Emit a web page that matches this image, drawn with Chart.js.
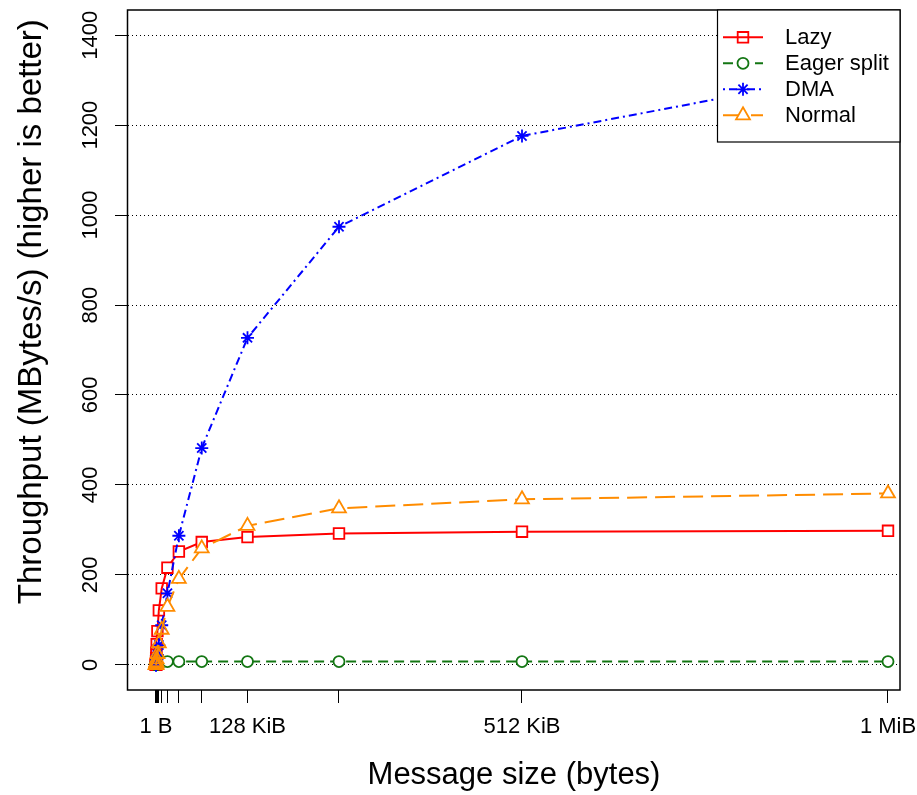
<!DOCTYPE html>
<html>
<head>
<meta charset="utf-8">
<script src="https://cdn.jsdelivr.net/npm/chart.js@4/dist/chart.umd.min.js"></script>
<style>
html,body{margin:0;padding:0;background:#fff;}
#wrap{width:917px;height:795px;}
canvas{display:block;}
</style>
</head>
<body>
<div id="wrap"><canvas id="c" width="917" height="795"></canvas></div>
<script>
// ---- data (message size in bytes, throughput in MBytes/s) ----
const sizes = [1, 2, 4, 8, 16, 32, 64, 128, 256, 512, 1024, 2048, 4096, 8192,
               16384, 32768, 65536, 131072, 262144, 524288, 1048576];
const lazy   = [0.06, 0.12, 0.25, 0.5, 1, 2, 4, 8, 15, 27, 46, 75, 121, 170,
                216, 252, 273, 284, 292, 296, 298];
const eager  = [0.5, 1, 1.5, 2, 2.5, 3, 3.5, 4, 4.5, 5, 5.5, 6, 6.5, 7,
                7.2, 7.3, 7.3, 7.3, 7.3, 7.3, 7.3];
const dma    = [0.01, 0.03, 0.05, 0.1, 0.2, 0.35, 0.7, 1.4, 2.8, 5.5, 11, 22, 44, 88,
                159, 287, 482, 727, 974, 1176, 1330];
const normal = [0.01, 0.03, 0.05, 0.1, 0.2, 0.4, 0.8, 1.5, 3, 6, 12, 24, 48, 78,
                129, 191, 259, 309, 348, 368, 381];
const seriesNames = ['Lazy', 'Eager split', 'DMA', 'Normal'];
const xTickValues = [1, 2, 4, 8, 16, 32, 64, 128, 256, 512, 1024, 2048, 4096, 8192,
                     16384, 32768, 65536, 131072, 262144, 524288, 1048576];
const xTickLabels = {1: '1 B', 131072: '128 KiB', 524288: '512 KiB', 1048576: '1 MiB'};
const yTickValues = [0, 200, 400, 600, 800, 1000, 1200, 1400];
const xTitle = 'Message size (bytes)';
const yTitle = 'Throughput (MBytes/s) (higher is better)';

// ---- styles ----
const FONT = "'Liberation Sans', Arial, Helvetica, sans-serif";
const styles = [
  {color: '#FF0000', dash: [],           point: 'rect',     r: 7.5},
  {color: '#137613', dash: [10, 6],      point: 'circle',   r: 5.5},
  {color: '#0000FF', dash: [2, 4, 8, 4], point: 'star',     r: 6.5},
  {color: '#FF8C00', dash: [20, 8],      point: 'triangle', r: 8}
];
const seriesData = [lazy, eager, dma, normal];

const datasets = seriesNames.map((name, i) => ({
  label: name,
  data: sizes.map((s, j) => ({x: s, y: seriesData[i][j]})),
  borderColor: styles[i].color,
  borderWidth: 2,
  borderDash: styles[i].dash,
  tension: 0,
  fill: false,
  pointStyle: styles[i].point,
  pointRadius: styles[i].r,
  pointHoverRadius: styles[i].r,
  pointBorderColor: styles[i].color,
  pointBorderWidth: 1.8,
  pointBackgroundColor: (c) => (c.raw && c.raw.x >= 16384) ? '#ffffff' : 'rgba(0,0,0,0)',
  order: 4 - i
}));

function drawMarker(ctx, style, r, x, y) {
  ctx.beginPath();
  if (style === 'rect') {
    const s = r * Math.SQRT1_2;
    ctx.rect(x - s, y - s, 2 * s, 2 * s);
    ctx.stroke();
  } else if (style === 'circle') {
    ctx.arc(x, y, r, 0, Math.PI * 2);
    ctx.fill(); ctx.stroke();
  } else if (style === 'triangle') {
    const w = r * Math.sqrt(3) / 2;
    ctx.moveTo(x, y - r);
    ctx.lineTo(x + w, y + r / 2);
    ctx.lineTo(x - w, y + r / 2);
    ctx.closePath();
    ctx.fill(); ctx.stroke();
  } else if (style === 'star') {
    const d = r * Math.SQRT1_2;
    ctx.moveTo(x - r, y); ctx.lineTo(x + r, y);
    ctx.moveTo(x, y - r); ctx.lineTo(x, y + r);
    ctx.moveTo(x - d, y - d); ctx.lineTo(x + d, y + d);
    ctx.moveTo(x - d, y + d); ctx.lineTo(x + d, y - d);
    ctx.stroke();
  }
}

const frameLegend = {
  id: 'frameLegend',
  afterDraw(chart) {
    const {ctx, chartArea: a} = chart;
    ctx.save();
    ctx.setLineDash([]);
    ctx.strokeStyle = '#000';
    ctx.lineWidth = 1.5;
    ctx.strokeRect(a.left - 0.5, a.top, a.right - a.left + 0.5, a.bottom - a.top);

    // legend box in top-right corner of plot
    const lw = 183, lh = 132;
    const lx = a.right - lw, ly = a.top;
    ctx.fillStyle = '#fff';
    ctx.fillRect(lx, ly, lw, lh);
    ctx.lineWidth = 1.2;
    ctx.strokeRect(lx + 0.5, ly, lw - 0.5, lh);
    ctx.font = '22px ' + FONT;
    ctx.textBaseline = 'middle';
    ctx.textAlign = 'left';
    chart.data.datasets.forEach((ds, i) => {
      const y = ly + 27.3 + i * 26;
      const st = styles[i];
      ctx.strokeStyle = st.color;
      ctx.lineWidth = 2;
      ctx.setLineDash(st.dash);
      ctx.beginPath();
      ctx.moveTo(lx + 6, y);
      ctx.lineTo(lx + 46, y);
      ctx.stroke();
      ctx.setLineDash([]);
      ctx.lineWidth = 1.8;
      ctx.fillStyle = '#fff';
      drawMarker(ctx, st.point, st.r, lx + 26, y);
      ctx.fillStyle = '#000';
      ctx.fillText(ds.label, lx + 68, y + 1);
    });
    ctx.restore();
  }
};

new Chart(document.getElementById('c'), {
  type: 'line',
  data: {datasets},
  options: {
    responsive: false,
    animation: false,
    devicePixelRatio: 1,
    events: [],
    layout: {padding: {top: 10, right: 17, left: 0, bottom: 0}},
    plugins: {legend: {display: false}, tooltip: {enabled: false}},
    scales: {
      x: {
        type: 'linear',
        min: -40108,
        max: 1065766,
        afterBuildTicks: (s) => { s.ticks = xTickValues.map(v => ({value: v})); },
        afterFit: (s) => { s.height = 105; s.paddingLeft = 0; s.paddingRight = 0; },
        ticks: {
          autoSkip: false, maxRotation: 0, minRotation: 0, padding: 11,
          color: '#000', font: {family: FONT, size: 22},
          callback: (v) => xTickLabels[v] || ''
        },
        grid: {drawOnChartArea: false, drawTicks: true, tickLength: 13, tickColor: '#000', tickWidth: 1},
        border: {display: false},
        title: {display: true, text: xTitle, color: '#000',
                font: {family: FONT, size: 31, lineHeight: 1}, padding: {top: 0, bottom: 4}}
      },
      y: {
        type: 'linear',
        min: -56,
        max: 1456,
        afterBuildTicks: (s) => { s.ticks = yTickValues.map(v => ({value: v})); },
        afterFit: (s) => { s.width = 128; s.paddingTop = 0; s.paddingBottom = 0; },
        ticks: {
          minRotation: 90, maxRotation: 90, crossAlign: 'center', padding: 0,
          color: '#000', font: {family: FONT, size: 22},
          callback: (v) => String(v)
        },
        grid: {color: '#000', lineWidth: 1, drawTicks: true, tickLength: 13,
               tickColor: '#000', tickWidth: 1, tickBorderDash: []},
        border: {display: false, dash: [1, 3]},
        title: {display: true, text: yTitle + ' ', align: 'end', color: '#000',
                font: {family: FONT, size: 33, lineHeight: 1}, padding: {top: 15, bottom: 0}}
      }
    }
  },
  plugins: [frameLegend]
});
</script>
</body>
</html>
